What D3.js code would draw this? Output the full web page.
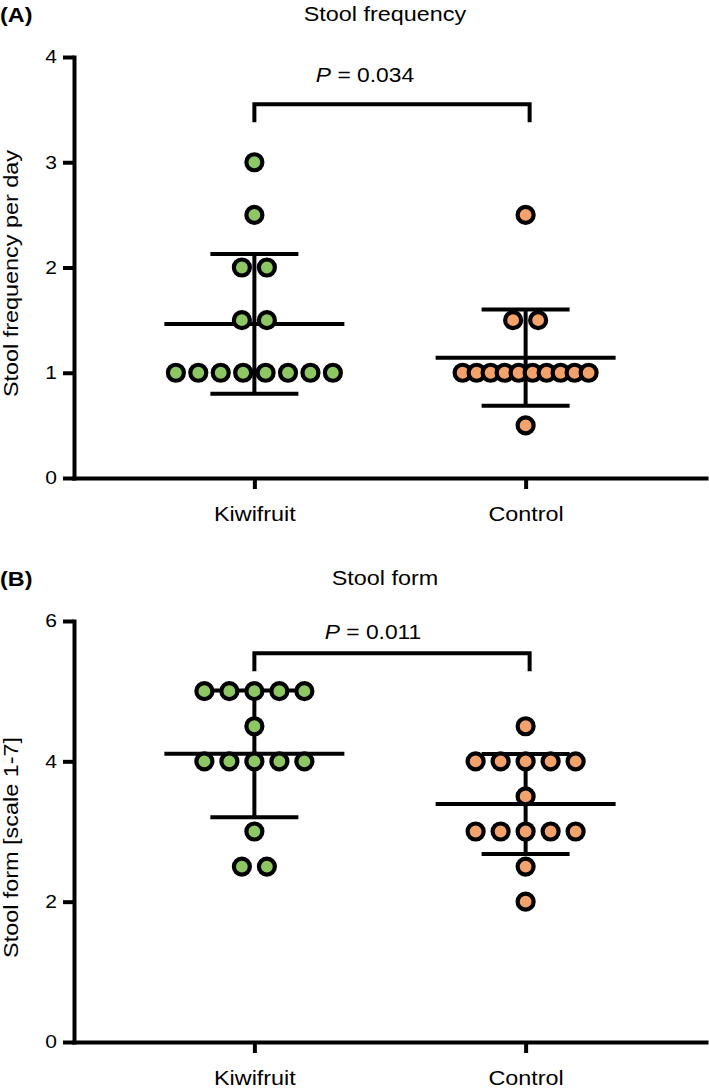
<!DOCTYPE html>
<html>
<head>
<meta charset="utf-8">
<script src="https://cdn.jsdelivr.net/npm/d3@7/dist/d3.min.js"></script>
<style>
  html, body { margin: 0; padding: 0; background: #fff; }
  svg { display: block; }
  text { font-family: "Liberation Sans", Arial, Helvetica, sans-serif; fill: #000; }
</style>
</head>
<body>
<svg id="chart" width="709" height="1091"></svg>
<script>
// ---------- data ----------
const categories = ["Kiwifruit", "Control"];

// Panel A: stool frequency per day (individual subjects)
const freqKiwifruit = [3, 2.5, 2, 2, 1.5, 1.5, 1, 1, 1, 1, 1, 1, 1, 1];
const freqControl   = [2.5, 1.5, 1.5, 1, 1, 1, 1, 1, 1, 1, 1, 1, 1, 0.5];
const freqTicks = [0, 1, 2, 3, 4];

// Panel B: stool form (scale 1-7)
const formKiwifruit = [5, 5, 5, 5, 5, 4.5, 4, 4, 4, 4, 4, 3, 2.5, 2.5];
const formControl   = [4.5, 4, 4, 4, 4, 4, 3.5, 3, 3, 3, 3, 3, 2.5, 2];
const formTicks = [0, 2, 4, 6];

const panelLetters = ["(A)", "(B)"];
const panelTitles = ["Stool frequency", "Stool form"];
const yLabels = ["Stool frequency per day", "Stool form [scale 1-7]"];
const pValues = ["0.034", "0.011"];
const bracketLevels = [3.55, 5.54];

const fills = { Kiwifruit: "#8DC763", Control: "#F3A26B" };

// ---------- layout ----------
const SX = 1.17; // horizontal stretch of the reference lettering
const panels = [
  { top: 57,  bottom: 478,  domain: [0, 4], ticks: freqTicks,
    series: [freqKiwifruit, freqControl], labelDy: 6, pX: 365, pGap: 22 },
  { top: 621, bottom: 1042, domain: [0, 6], ticks: formTicks,
    series: [formKiwifruit, formControl], labelDy: 16, pX: 373, pGap: 14 }
];

const svg = d3.select("#chart");
const x = d3.scalePoint().domain(categories).range([74, 706]).padding(0.665);

function spacingFor(n) {
  if (n <= 1) return 0;
  return n <= 8 ? Math.min(25, 157 / (n - 1)) : 126 / (n - 1);
}

function stretchText(sel) {
  sel.each(function () {
    const t = d3.select(this);
    const tx = +t.attr("x") || 0, ty = +t.attr("y") || 0;
    t.attr("x", 0).attr("y", 0).attr("transform", `translate(${tx},${ty}) scale(${SX},1)`);
  });
}

panels.forEach((p, pi) => {
  const g = svg.append("g");
  const y = d3.scaleLinear().domain(p.domain).range([p.bottom, p.top]);

  // panel letter & title
  g.append("text")
    .attr("transform", `translate(0,${p.top - 35}) scale(${SX},1)`)
    .attr("font-size", 20).attr("font-weight", "bold")
    .text(panelLetters[pi]);
  g.append("text")
    .attr("transform", `translate(385,${p.top - 36}) scale(${SX},1)`)
    .attr("text-anchor", "middle").attr("font-size", 20)
    .text(panelTitles[pi]);

  // y axis
  const yAxis = g.append("g").attr("transform", `translate(${x.range()[0]},0)`)
    .call(d3.axisLeft(y).tickValues(p.ticks).tickFormat(d3.format("d"))
      .tickSize(11).tickSizeOuter(0).tickPadding(6));
  yAxis.select(".domain").attr("stroke", "#000").attr("stroke-width", 4).attr("stroke-linecap", "square");
  yAxis.selectAll(".tick line").attr("stroke", "#000").attr("stroke-width", 4);
  yAxis.selectAll(".tick text").attr("font-size", 18).attr("font-family", null).call(stretchText);

  // x axis
  const xAxis = g.append("g").attr("transform", `translate(0,${p.bottom})`)
    .call(d3.axisBottom(x).tickSize(11).tickSizeOuter(0).tickPadding(18));
  xAxis.select(".domain").attr("stroke", "#000").attr("stroke-width", 4).attr("stroke-linecap", "square");
  xAxis.selectAll(".tick line").attr("stroke", "#000").attr("stroke-width", 4);
  xAxis.selectAll(".tick text").attr("font-size", 20).attr("font-family", null).call(stretchText);

  // y label
  g.append("text")
    .attr("transform", `translate(18,${(p.top + p.bottom) / 2 + p.labelDy}) rotate(-90) scale(${SX},1)`)
    .attr("text-anchor", "middle").attr("font-size", 20)
    .text(yLabels[pi]);

  // error bars (mean ± SD)
  categories.forEach((cat, ci) => {
    const vals = p.series[ci];
    const m = d3.mean(vals), sd = d3.deviation(vals);
    const cx = x(cat);
    const eg = g.append("g").attr("stroke", "#000").attr("stroke-width", 4);
    eg.append("line").attr("x1", cx).attr("x2", cx).attr("y1", y(m - sd)).attr("y2", y(m + sd));
    eg.append("line").attr("x1", cx - 90).attr("x2", cx + 90).attr("y1", y(m)).attr("y2", y(m));
    [m - sd, m + sd].forEach(v => {
      eg.append("line").attr("x1", cx - 44).attr("x2", cx + 44).attr("y1", y(v)).attr("y2", y(v));
    });
  });

  // points
  categories.forEach((cat, ci) => {
    const vals = p.series[ci];
    const groups = d3.groups(vals, v => v);
    const pts = [];
    groups.forEach(([v, arr]) => {
      const n = arr.length, s = spacingFor(n);
      arr.forEach((_, i) => pts.push({ v, dx: (i - (n - 1) / 2) * s }));
    });
    g.append("g").selectAll("circle").data(pts).join("circle")
      .attr("cx", d => x(cat) + d.dx)
      .attr("cy", d => y(d.v))
      .attr("r", 8)
      .attr("fill", fills[cat])
      .attr("stroke", "#000")
      .attr("stroke-width", 4.2);
  });

  // significance bracket
  const by = y(bracketLevels[pi]);
  const x1 = x(categories[0]), x2 = x(categories[1]) + 4;
  g.append("path")
    .attr("d", `M${x1},${by + 18}V${by}H${x2}V${by + 18}`)
    .attr("fill", "none").attr("stroke", "#000").attr("stroke-width", 4);
  const pt = g.append("text")
    .attr("transform", `translate(${p.pX},${by - p.pGap}) scale(${SX},1)`)
    .attr("text-anchor", "middle").attr("font-size", 19.5);
  pt.append("tspan").attr("font-style", "italic").text("P");
  pt.append("tspan").text(" = " + pValues[pi]);
});
</script>
</body>
</html>
